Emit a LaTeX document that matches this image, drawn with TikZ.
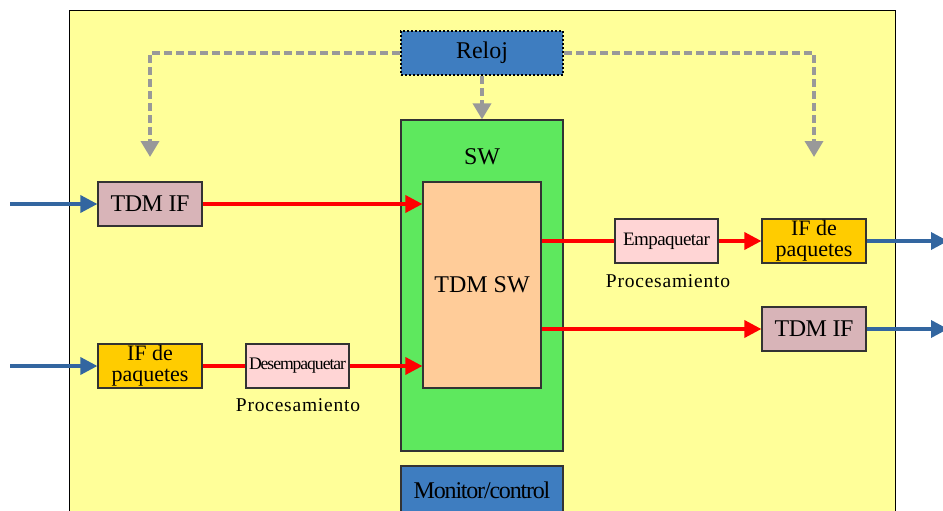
\documentclass[tikz,border=0pt]{standalone}
\usepackage{fontspec}
\setmainfont{Liberation Serif}
\usetikzlibrary{arrows.meta}
\definecolor{bgyellow}{RGB}{255,255,153}
\definecolor{clkblue}{RGB}{62,125,192}
\definecolor{swgreen}{RGB}{94,232,94}
\definecolor{peach}{RGB}{255,204,153}
\definecolor{tdmrose}{RGB}{216,180,184}
\definecolor{ifgold}{RGB}{255,204,0}
\definecolor{pktpink}{RGB}{255,213,213}
\definecolor{linkblue}{RGB}{51,102,160}
\definecolor{clkgray}{RGB}{153,153,153}
\tikzset{
  box/.style={draw=black!80, line width=1.2pt, inner sep=0pt, align=center,
    font=\fontsize{24}{20}\selectfont},
  ifbox/.style={box, fill=ifgold, font=\fontsize{22}{21}\selectfont},
  smallbox/.style={box, font=\fontsize{19}{20}\selectfont},
  lbl/.style={inner sep=0pt, font=\fontsize{19.5}{20}\selectfont},
  redline/.style={draw=red, line width=3.5pt},
  redarrow/.style={redline, -{Triangle[length=17pt,width=17pt]}},
  bluearrow/.style={draw=linkblue, line width=3.5pt, -{Triangle[length=17pt,width=17pt]}},
  clkarrow/.style={draw=clkgray, line width=3.5pt, dash pattern=on 8pt off 4pt,
    -{Triangle[length=16pt,width=18pt]}},
}
\begin{document}
\begin{tikzpicture}[x=1pt,y=-1pt]
\useasboundingbox (0,0) rectangle (943,511);
\clip (0,0) rectangle (943,511);
\node[draw=black, line width=1pt, fill=bgyellow, minimum width=826pt, minimum height=520pt, anchor=north west, inner sep=0pt] (bg) at (69,10) {};

\node[box, fill=swgreen, minimum width=162pt, minimum height=331pt] (sw) at (482,285.5) {};
\node[lbl, font=\fontsize{24}{24}\selectfont] (swl) at (482,157) {SW};
\node[box, fill=peach, minimum width=118pt, minimum height=206pt] (tdmsw) at (482,285) {TDM SW};

\node[box, fill=clkblue, draw=black, dash pattern=on 2pt off 2pt, line width=2.2pt, minimum width=162pt, minimum height=44pt] (reloj) at (482,53) {Reloj};
\node[box, fill=clkblue, minimum width=162pt, minimum height=48pt] (mon) at (482,490) {\addfontfeature{LetterSpace=-5}Monitor/control};

\node[box, fill=tdmrose, minimum width=104pt, minimum height=44pt] (tdmL) at (150,204) {\addfontfeature{LetterSpace=-2}TDM IF};
\node[ifbox, minimum width=104pt, minimum height=44pt] (ifL) at (150,366) {IF de\\paquetes};
\node[smallbox, fill=pktpink, minimum width=103pt, minimum height=44pt] (desemp) at (297.5,366) {\resizebox{97pt}{!}{\addfontfeature{LetterSpace=-6}Desempaquetar}};
\node[lbl] (proc1) at (298,405) {\addfontfeature{LetterSpace=4}Procesamiento};

\node[smallbox, fill=pktpink, minimum width=103pt, minimum height=44pt] (emp) at (666.5,241) {\addfontfeature{LetterSpace=-3}Empaquetar};
\node[lbl] (proc2) at (668,281) {\addfontfeature{LetterSpace=4}Procesamiento};
\node[ifbox, minimum width=104pt, minimum height=44pt] (ifR) at (814,241) {IF de\\paquetes};
\node[box, fill=tdmrose, minimum width=104pt, minimum height=44pt] (tdmR) at (814,329) {\addfontfeature{LetterSpace=-2}TDM IF};

\coordinate (inA) at (10,204);
\coordinate (inB) at (10,366);
\coordinate (outA) at (948,241);
\coordinate (outB) at (948,329);
\coordinate (clkL) at (150,157);
\coordinate (clkR) at (814,157);

\draw[bluearrow] (inA) -- (tdmL.west);
\draw[bluearrow] (inB) -- (ifL.west);
\draw[bluearrow] (ifR.east) -- (outA);
\draw[bluearrow] (tdmR.east) -- (outB);

\draw[redarrow] (tdmL.east) -- (tdmL.east -| tdmsw.west);
\draw[redline] (ifL.east) -- (desemp.west);
\draw[redarrow] (desemp.east) -- (desemp.east -| tdmsw.west);
\draw[redline] (emp.west -| tdmsw.east) -- (emp.west);
\draw[redarrow] (emp.east) -- (ifR.west);
\draw[redarrow] (tdmR.west -| tdmsw.east) -- (tdmR.west);

\draw[clkarrow] (reloj.west) -| (clkL);
\draw[clkarrow] (reloj.east) -| (clkR);
\draw[clkarrow] (reloj.south) -- (sw.north);
\end{tikzpicture}
\end{document}
